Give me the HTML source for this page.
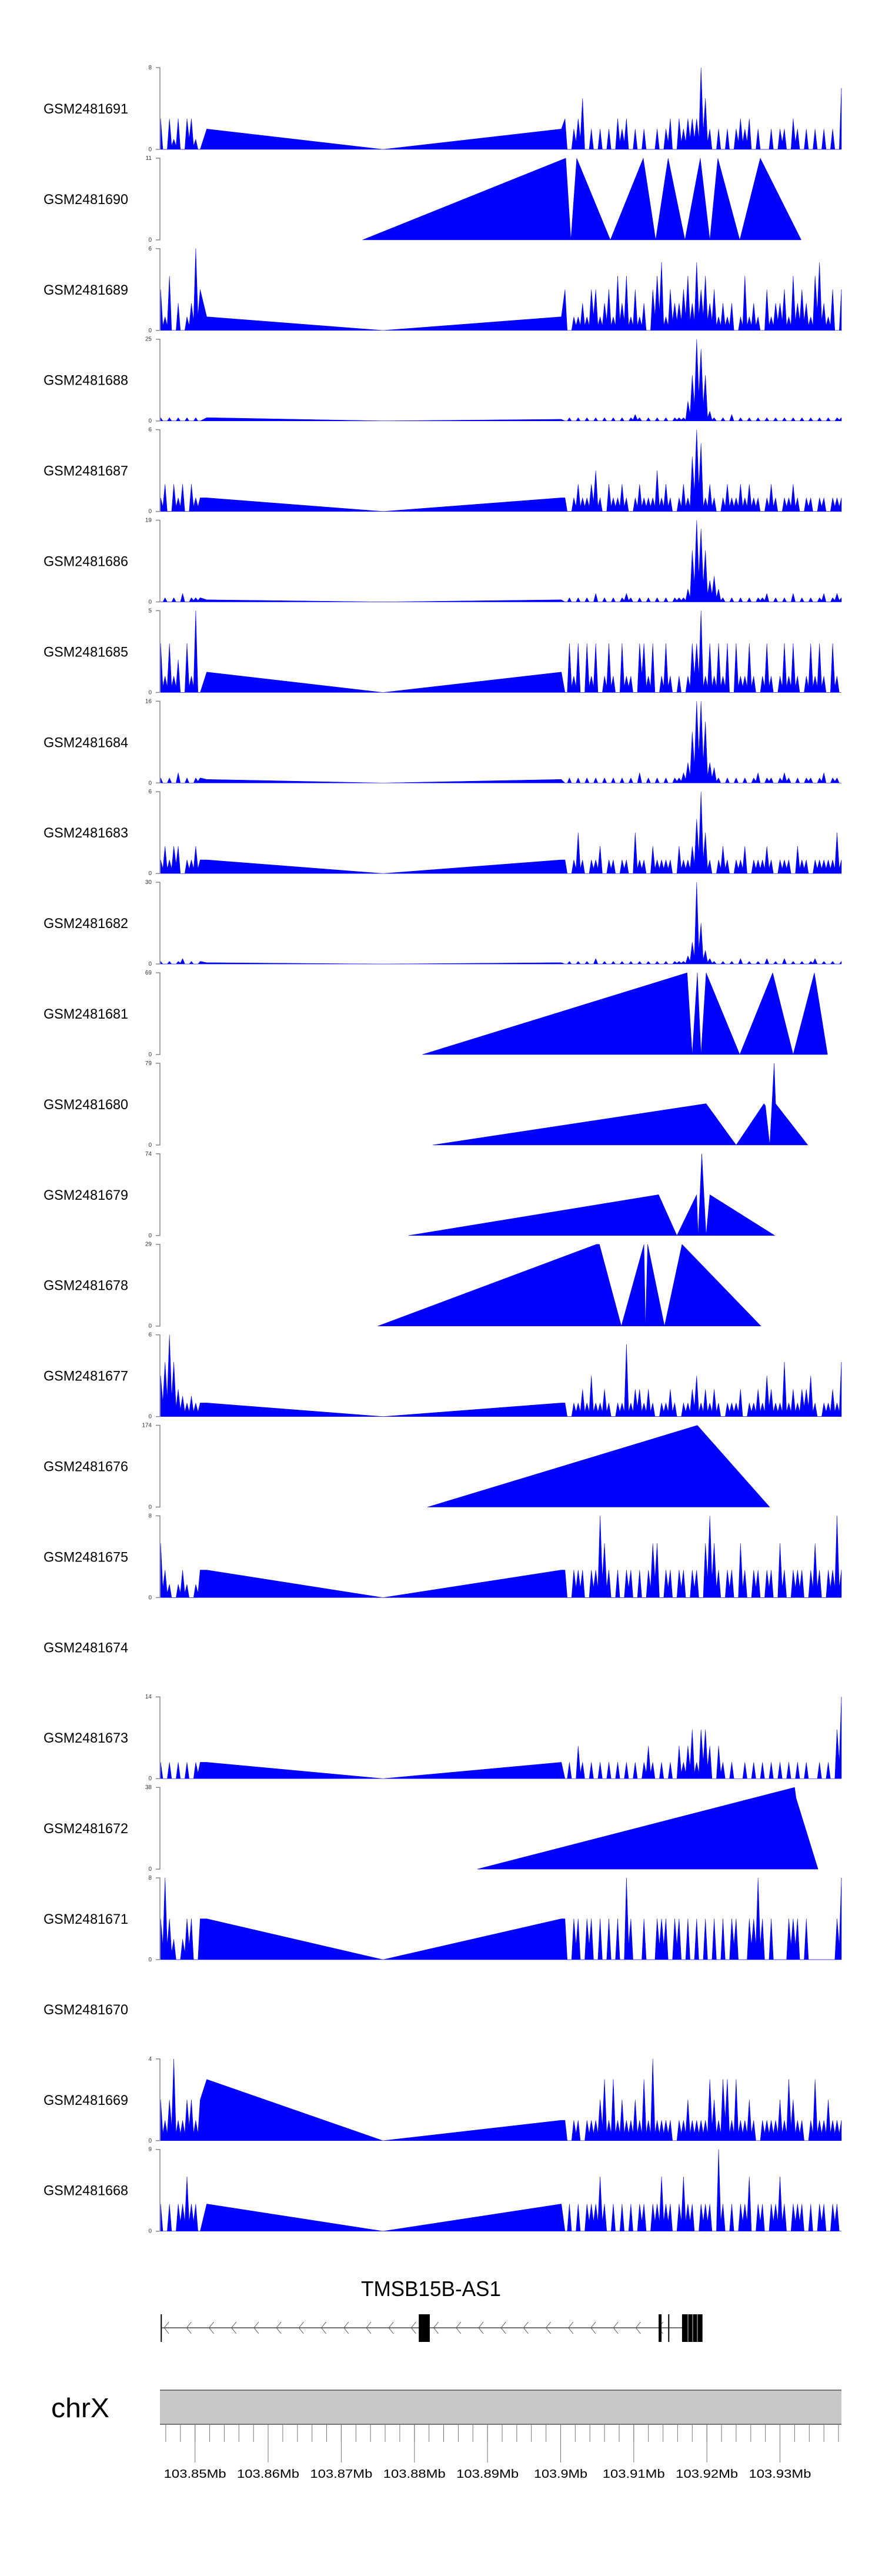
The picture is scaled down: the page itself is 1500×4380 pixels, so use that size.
<!DOCTYPE html>
<html><head><meta charset="utf-8"><title>Coverage tracks</title>
<style>html,body{margin:0;padding:0;background:#fff}svg{display:block}</style></head>
<body>
<svg id="chart" xmlns="http://www.w3.org/2000/svg" width="1500" height="4380" viewBox="0 0 1500 4380" font-family="Liberation Sans, sans-serif">
<rect x="0" y="0" width="1500" height="4380" fill="#fff"/>
<g id="tracks"></g>
<g id="gene">
<text x="733" y="3904" font-size="36" text-anchor="middle" textLength="238" lengthAdjust="spacingAndGlyphs" fill="#000">TMSB15B-AS1</text>
</g>
<g id="axis">
<text x="87" y="4110" font-size="46" textLength="99" lengthAdjust="spacingAndGlyphs" fill="#000">chrX</text>
<rect x="272" y="4064" width="1159" height="58" fill="#c8c8c8"/>
<line x1="272" y1="4064" x2="1431" y2="4064" stroke="#777" stroke-width="2"/>
<line x1="272" y1="4122" x2="1431" y2="4122" stroke="#777" stroke-width="2"/>
</g>
</svg>
<script>
// ---- data ----
const sampleNames = ["GSM2481691","GSM2481690","GSM2481689","GSM2481688","GSM2481687","GSM2481686","GSM2481685","GSM2481684","GSM2481683","GSM2481682","GSM2481681","GSM2481680","GSM2481679","GSM2481678","GSM2481677","GSM2481676","GSM2481675","GSM2481674","GSM2481673","GSM2481672","GSM2481671","GSM2481670","GSM2481669","GSM2481668"];
const trackMax = [8,11,6,25,6,19,5,16,6,30,69,79,74,29,6,174,8,null,14,38,8,null,4,9];
const trackKind = ["noisy","tri","noisy","noisy","noisy","noisy","noisy","noisy","noisy","noisy","tri","tri","tri","tri","noisy","tri","noisy","empty","noisy","tri","noisy","empty","noisy","noisy"];

const leftStartMb = 103.8453, rightStartMb = 103.9006, binMb = 0.0006;
const bridgeLeftMb = 103.8516, bridgeMidMb = 103.8757, bridgeRightMb = 103.9001;

const L1691=[3,0,3,1,3,0,3,3,1,0], B1691=[2,2];
const R1691=[3,0,2,3,5,0,2,0,2,0,2,0,3,2,3,0,2,0,2,0,0,2,0,2,3,0,3,2,3,3,3,8,5,2,0,2,0,2,0,2,3,2,3,0,2,0,0,2,0,2,2,0,3,2,0,2,0,2,0,2,0,2,0,6];
const L1689=[3,1,4,0,2,0,1,2,6,3], B1689=[1,1];
const R1689=[3,0,1,1,2,1,3,3,1,2,3,1,4,2,4,1,3,1,2,0,3,4,5,1,3,2,2,3,4,2,5,3,4,2,3,1,2,1,2,0,1,4,1,2,1,0,3,1,2,2,3,1,4,2,3,2,1,4,5,2,1,3,0,3];
const L1688=[1,0,1,0,1,0,1,0,1,0], B1688=[1,0.5];
const R1688=[0,1,0,1,0,1,0,1,0,1,0,1,0,1,0,1,2,1,0,1,0,1,0,1,0,1,1,1,6,14,25,22,14,3,1,0,1,0,2,0,1,0,1,0,1,0,1,0,1,0,1,0,1,0,1,0,1,0,1,0,1,0,1,1];
const L1687=[1,2,0,2,1,2,0,2,1,1], B1687=[1,1];
const R1687=[1,0,1,2,1,1,2,3,1,0,2,1,1,2,1,0,1,2,1,1,1,3,1,2,1,0,1,2,1,4,6,5,1,2,1,0,1,2,1,1,2,1,2,1,1,0,1,2,1,0,1,1,2,1,0,1,1,0,1,1,0,1,1,1];
const L1686=[0,1,0,1,0,2,0,1,1,1], B1686=[0.5,0.5];
const R1686=[0,1,0,1,0,1,0,2,0,1,0,1,0,1,2,1,0,1,0,1,0,1,0,1,0,1,1,1,3,12,19,17,12,5,6,3,1,0,1,0,1,0,1,0,1,1,2,0,1,0,1,0,2,0,1,0,1,0,1,2,0,1,2,1];
const L1685=[3,1,3,1,2,0,3,1,5,0], B1685=[1.25,1.25];
const R1685=[0,3,1,3,0,3,1,3,0,1,3,1,0,3,1,1,0,3,3,1,3,0,1,3,1,0,1,0,1,3,3,5,1,3,1,3,1,3,0,3,1,1,3,1,0,1,3,1,0,1,3,1,3,1,0,1,3,1,3,1,0,3,1,0];
const L1684=[1,0,1,0,2,0,1,0,1,1], B1684=[0.7,0.7];
const R1684=[0,1,0,1,0,1,0,1,0,1,0,1,0,1,0,1,0,2,0,1,0,1,0,1,0,1,1,2,4,10,16,16,12,4,3,1,0,1,0,1,0,1,0,1,2,0,1,1,0,1,2,1,0,1,0,1,1,0,1,2,0,1,1,0];
const L1683=[1,2,1,2,2,0,1,1,2,1], B1683=[1,1];
const R1683=[1,0,1,3,1,0,1,1,2,0,1,1,0,1,1,0,3,1,1,0,2,1,1,1,1,0,2,1,1,2,4,6,3,1,0,1,2,1,0,1,1,2,0,1,1,1,2,1,0,1,1,1,0,2,1,1,0,1,1,1,1,1,3,1];
const L1682=[1,0,1,0,1,2,0,1,0,1], B1682=[0.5,0.5];
const R1682=[0,1,0,1,0,1,0,2,0,1,0,1,0,1,0,1,0,1,0,1,0,1,0,1,0,1,1,1,3,8,30,15,5,2,1,0,1,0,1,0,2,0,1,0,1,0,2,0,1,0,2,0,1,0,1,0,1,2,0,1,0,1,0,1];
const L1677=[3,4,6,4,2,1.5,1,1.5,1,1], B1677=[1,1];
const R1677=[1,0,1,1,2,1,3,1,1,2,1,0,1,1,5.3,1,2,2,1,2,1,0,1,1,2,1,0,1,1,2,3,1,2,1,2,1,0,1,1,1,2,0,1,1,2,1,3,2,1,1,4,1,2,1,2,2,3,1,0,1,1,2,1,4];
const L1675=[5.3,2.7,1.3,0,1.3,2.7,1.3,0,1.3,2.7], B1675=[2.7,2.7];
const R1675=[2.7,0,2.7,2.7,2.7,0,2.7,2.7,8,5.3,2.7,0,2.7,0,2.7,2.7,0,2.7,0,2.7,5.3,5.3,0,2.7,2.7,0,2.7,2.7,0,2.7,2.7,0,5.3,8,5.3,2.7,0,2.7,2.7,0,5.3,2.7,0,2.7,2.7,0,2.7,2.7,0,5.3,2.7,0,2.7,2.7,2.7,0,2.7,5.3,2.7,0,2.7,2.7,8,2.7];
const L1673=[2.8,0,2.8,0,2.8,0,2.8,0,2.8,2.8], B1673=[2.8,2.8];
const R1673=[0,2.8,0,5.6,2.8,0,2.8,0,2.8,0,2.8,0,2.8,0,2.8,0,2.8,0,2.8,5.6,2.8,0,2.8,0,2.8,0,5.6,2.8,5.6,8.4,2.8,8.4,8.4,5.6,0,5.6,2.8,0,2.8,0,0,2.8,0,2.8,0,2.8,0,2.8,0,2.8,0,2.8,0,2.8,0,2.8,0,0,2.8,0,2.8,0,8.4,14];
const L1671=[4,8,4,2,0,2,4,4,0,4], B1671=[4,4];
const R1671=[4,0,4,4,0,4,4,0,4,0,4,0,4,0,8,4,0,0,4,0,0,4,4,4,0,4,4,0,4,0,4,0,4,0,4,0,4,0,4,4,0,0,4,4,8,4,0,4,0,0,0,4,4,4,0,4,0,0,0,0,0,0,4,8];
const L1669=[2,1,2,4,1,1,2,2,1,2], B1669=[3,1];
const R1669=[1,0,1,1,0,1,1,1,2,3,1,3,1,2,1,1,2,1,3,1,4,1,1,1,1,0,1,1,2,1,1,1,1,3,2,1,3,3,1,3,1,1,2,1,0,1,1,1,1,2,1,3,2,1,1,0,1,3,1,1,2,1,1,1];
const L1668=[3,0,3,0,3,3,6,3,3,0], B1668=[3,3];
const R1668=[0,3,0,3,0,3,3,3,6,3,0,3,0,3,0,3,0,3,3,0,3,3,6,3,3,0,3,6,3,3,0,3,3,3,0,9,3,0,3,0,3,3,6,0,3,3,0,3,3,6,3,0,3,3,3,0,3,0,3,3,0,3,3,0];

const P1690=[103.8729,103.9007,103.9014,103.9022,103.9068,103.9113,103.9130,103.9147,103.9170,103.9191,103.9204,103.9215,103.9245,103.9273,103.9329];
const V1690=[0,11,0,11,0,11,0,11,0,11,0,11,0,11,0];
const P1681=[103.8811,103.9173,103.9180,103.9187,103.9192,103.9199,103.9245,103.9290,103.9318,103.9347,103.9365];
const V1681=[0,69,0,69,0,69,0,69,0,69,0];
const P1680=[103.8825,103.9199,103.9240,103.9278,103.9280,103.9286,103.9292,103.9294,103.9338];
const V1680=[0,40,0,40,38,0,79,40,0];
const P1679=[103.8792,103.9134,103.9159,103.9186,103.9188,103.9193,103.9196,103.9199,103.9204,103.9293];
const V1679=[0,37,0,37,0,74,37,0,37,0];
const P1678=[103.8750,103.9049,103.9053,103.9083,103.9114,103.9116,103.9119,103.9142,103.9166,103.9274];
const V1678=[0,29,29,0,29,0,29,0,29,0];
const P1676=[103.8818,103.9187,103.9286];
const V1676=[0,174,0];
const P1672=[103.8886,103.9320,103.9322,103.9352];
const V1672=[0,38,33,0];

const geneExonsMb=[[103.8806,103.8821],[103.9134,103.9138],[103.9147,103.9148],[103.9166,103.9194]];
const geneStartMb=103.8453, geneEndMb=103.9194;
const axisTicksMb=[103.846,103.848,103.85,103.852,103.854,103.856,103.858,103.86,103.862,103.864,103.866,103.868,103.87,103.872,103.874,103.876,103.878,103.88,103.882,103.884,103.886,103.888,103.89,103.892,103.894,103.896,103.898,103.9,103.902,103.904,103.906,103.908,103.91,103.912,103.914,103.916,103.918,103.92,103.922,103.924,103.926,103.928,103.93,103.932,103.934,103.936,103.938];
const axisLabels=["103.85Mb","103.86Mb","103.87Mb","103.88Mb","103.89Mb","103.9Mb","103.91Mb","103.92Mb","103.93Mb"];
const axisLabelMb=[103.85,103.86,103.87,103.88,103.89,103.9,103.91,103.92,103.93];

// ---- scales ----
const NS="http://www.w3.org/2000/svg";
const X0=272, X1=1431, MB0=103.8452, MB1=103.9384;
function xScale(mb){return X0+(mb-MB0)/(MB1-MB0)*(X1-X0);}
const TOP0=115, PITCH=153.9, TH=139;
function trackTop(i){return TOP0+i*PITCH;}
function mk(tag,attrs,parent){const e=document.createElementNS(NS,tag);for(const k in attrs)e.setAttribute(k,attrs[k]);parent.appendChild(e);return e;}

const noisy={1691:[L1691,B1691,R1691],1689:[L1689,B1689,R1689],1688:[L1688,B1688,R1688],1687:[L1687,B1687,R1687],1686:[L1686,B1686,R1686],1685:[L1685,B1685,R1685],1684:[L1684,B1684,R1684],1683:[L1683,B1683,R1683],1682:[L1682,B1682,R1682],1677:[L1677,B1677,R1677],1675:[L1675,B1675,R1675],1673:[L1673,B1673,R1673],1671:[L1671,B1671,R1671],1669:[L1669,B1669,R1669],1668:[L1668,B1668,R1668]};
const tri={1690:[P1690,V1690],1681:[P1681,V1681],1680:[P1680,V1680],1679:[P1679,V1679],1678:[P1678,V1678],1676:[P1676,V1676],1672:[P1672,V1672]};

// sharpen binned points into needle-like spikes (rendering only)
function spiky(arr){
  const out=[];
  arr.forEach((p,k)=>{
    if(k>0){const q=arr[k-1];out.push([(p[0]+q[0])/2,Math.min(p[1],q[1])*0.35]);}
    out.push(p);
  });
  return out;
}

const tracksG=document.getElementById('tracks');
sampleNames.forEach((name,i)=>{
  const top=trackTop(i), bot=top+TH, id=name.slice(-4);
  const g=mk('g',{},tracksG);
  
  
  const lab=mk('text',{x:146,y:(top+TH/2+8.5).toFixed(1),'font-size':24,'text-anchor':'middle',textLength:144,lengthAdjust:'spacingAndGlyphs',fill:'#000'},g);
  lab.textContent=name;
  
  
  if(trackKind[i]==='empty')return;
  const max=trackMax[i];
  const y=v=>bot-(v/max)*TH;
  const ax=mk('path',{d:`M265,${top}H${X0}V${bot}H265`,fill:'none',stroke:'#888',"stroke-width":1.5},g);
  
  
  const tTop=mk('text',{x:258,y:top+3,'font-size':10,'text-anchor':'end',fill:'#333'},g);
  tTop.textContent=String(max);
  
  
  const tBot=mk('text',{x:258,y:bot+3,'font-size':10,'text-anchor':'end',fill:'#333'},g);
  tBot.textContent='0';
  
  
  let pts=[];
  if(trackKind[i]==='noisy'){
    const [L,B,R]=noisy[id];
    let lp=[];L.forEach((v,k)=>lp.push([leftStartMb+k*binMb,v]));
    let rp=[];R.forEach((v,k)=>{const m=rightStartMb+k*binMb;if(m<=MB1+1e-9)rp.push([m,v]);});
    pts=spiky(lp).concat([[bridgeLeftMb,B[0]],[bridgeMidMb,0],[bridgeRightMb,B[1]]]).concat(spiky(rp));
  }else{
    const [P,V]=tri[id];
    P.forEach((m,k)=>pts.push([m,V[k]]));
  }
  let d=`M${xScale(pts[0][0]).toFixed(1)},${bot}`;
  pts.forEach(p=>{d+=`L${xScale(p[0]).toFixed(1)},${y(p[1]).toFixed(1)}`;});
  d+=`L${xScale(pts[pts.length-1][0]).toFixed(1)},${bot}Z`;
  const area=mk('path',{d:d,fill:'#0000ff',stroke:'#0000ff','stroke-width':0.5},g);
  
  
});

// gene model
const geneG=document.getElementById('gene');
const gy=3958, gTop=3935, gBot=3982;
const gl=mk('line',{x1:xScale(geneStartMb),y1:gy,x2:xScale(geneEndMb),y2:gy,stroke:'#444','stroke-width':1.5},geneG);


const gs=mk('rect',{x:xScale(geneStartMb),y:gTop,width:2,height:gBot-gTop,fill:'#000'},geneG);


for(let cx=xScale(geneStartMb)+6;cx<xScale(geneEndMb)-40;cx+=38.2){
  const ch=mk('path',{d:`M${(cx+8).toFixed(1)},${gy-10}L${cx.toFixed(1)},${gy}L${(cx+8).toFixed(1)},${gy+10}`,fill:'none',stroke:'#555','stroke-width':1},geneG);
  
  
}
geneExonsMb.forEach(e=>{
  const x=xScale(e[0]), w=Math.max(2,xScale(e[1])-x);
  const r=mk('rect',{x:x.toFixed(1),y:gTop,width:w.toFixed(1),height:gBot-gTop,fill:'#000'},geneG);
  
  
});
[1170,1178,1186].forEach(x=>{
  const l=mk('line',{x1:x,y1:gTop,x2:x,y2:gBot,stroke:'#fff','stroke-width':0.8},geneG);
  
  
});

// genome axis
const axG=document.getElementById('axis');
axisTicksMb.forEach(m=>{
  const x=xScale(m).toFixed(1);
  const t=mk('line',{x1:x,y1:4123,x2:x,y2:4152,stroke:'#777','stroke-width':1},axG);
  
  
});
axisLabelMb.forEach((m,k)=>{
  const x=xScale(m);
  const t=mk('line',{x1:x.toFixed(1),y1:4123,x2:x.toFixed(1),y2:4187,stroke:'#777','stroke-width':1},axG);
  
  
  const lab=axisLabels[k];
  const tx=mk('text',{x:x.toFixed(1),y:4213,'font-size':20,'text-anchor':'middle',textLength:(lab.length===7?91:106),lengthAdjust:'spacingAndGlyphs',fill:'#000'},axG);
  tx.textContent=lab;
  
  
});
</script>
</body></html>
